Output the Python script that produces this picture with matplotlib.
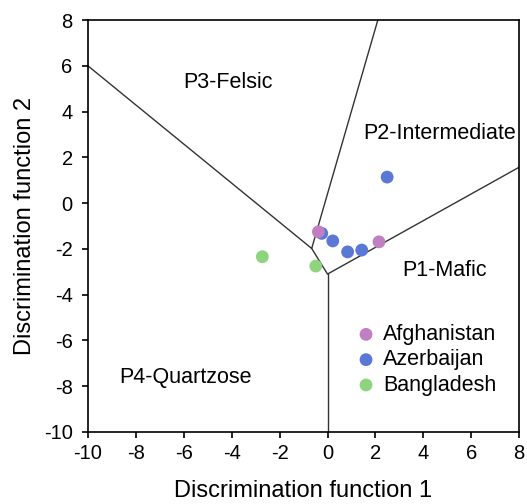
import matplotlib
matplotlib.use("Agg")
import matplotlib.pyplot as plt

plt.rcParams['font.family'] = ['Liberation Sans', 'DejaVu Sans']
plt.rcParams['axes.unicode_minus'] = False

# field boundaries (Roser & Korsch style)
bnd_a_x = [-10, -0.66, 2.1]
bnd_a_y = [6, -1.98, 8]
bnd_b_x = [-0.66, 0.0, 8]
bnd_b_y = [-1.98, -3.1, 1.57]
bnd_c_x = [0.0, 0.0]
bnd_c_y = [-3.1, -10]

afg_x = [-0.38, 2.15]
afg_y = [-1.25, -1.69]
aze_x = [-0.24, 0.22, 0.84, 1.43, 2.49]
aze_y = [-1.32, -1.65, -2.13, -2.05, 1.14]
ban_x = [-2.72, -0.49]
ban_y = [-2.34, -2.75]

fields = ['P3-Felsic', 'P2-Intermediate', 'P1-Mafic', 'P4-Quartzose']
field_x = [-4.16, 4.7, 4.9, -5.95]
field_y = [5.28, 3.06, -2.93, -7.6]

fig = plt.figure(figsize=(5.27, 5.04), dpi=100)
ax = fig.add_axes([0.167, 0.143, 0.818, 0.817])

for bx, by in [(bnd_a_x, bnd_a_y), (bnd_b_x, bnd_b_y), (bnd_c_x, bnd_c_y)]:
    ax.plot(bx, by, color='#333333', lw=1.0, zorder=1)

ax.scatter(aze_x, aze_y, s=85, color='#5B78D6', label='Azerbaijan', zorder=3, edgecolors='none')
ax.scatter(afg_x, afg_y, s=85, color='#C07FC2', label='Afghanistan', zorder=4, edgecolors='none')
ax.scatter(ban_x, ban_y, s=85, color='#8ED47E', label='Bangladesh', zorder=3, edgecolors='none')

for name, fx, fy in zip(fields, field_x, field_y):
    ax.text(fx, fy, name, ha='center', va='center', fontsize=15.5)

ax.set_xlim(-10, 8)
ax.set_ylim(-10, 8)
ax.set_xticks(range(-10, 9, 2))
ax.set_yticks(range(-10, 9, 2))
ax.tick_params(labelsize=14.5, direction='out', length=4, width=1.2)
ax.tick_params(axis='x', pad=5)
ax.tick_params(axis='y', pad=7)
for sp in ax.spines.values():
    sp.set_linewidth(1.2)

ax.set_xlabel('Discrimination function 1', fontsize=17, labelpad=12)
ax.set_ylabel('Discrimination function 2', fontsize=17, labelpad=6)

h, l = ax.get_legend_handles_labels()
order = [1, 0, 2]
ax.legend([h[i] for i in order], [l[i] for i in order], loc='upper left',
          frameon=False, fontsize=15.5, handlelength=1.0, handletextpad=0.3,
          borderaxespad=0, labelspacing=0.2, bbox_to_anchor=(0.6, 0.283))

fig.savefig('out.png', dpi=100)
